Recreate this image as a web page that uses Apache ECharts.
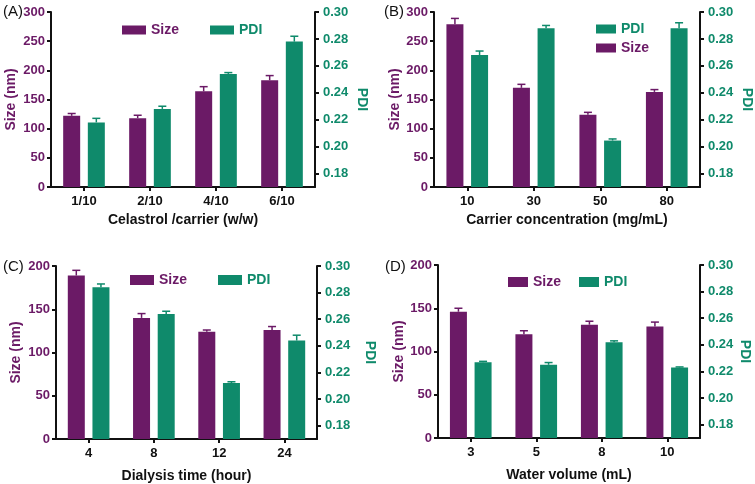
<!DOCTYPE html>
<html><head><meta charset="utf-8">
<script src="https://cdn.jsdelivr.net/npm/echarts@6/dist/echarts.min.js"></script>
<style>html,body{margin:0;padding:0;background:#fff}#c{width:755px;height:484px}</style>
</head><body><div id="c"></div>
<script>
// ---- data ----
const catsA = ['1/10','2/10','4/10','6/10'];
const sizeA = [122,118,164,183];
const sizeErrA = [4,5,8,8];
const pdiA = [0.218,0.228,0.254,0.278];
const pdiErrA = [0.003,0.002,0.001,0.004];

const catsB = ['10','30','50','80'];
const sizeB = [279,170,124,163];
const sizeErrB = [10,6,4,4];
const pdiB = [0.268,0.288,0.2045,0.288];
const pdiErrB = [0.003,0.002,0.0012,0.004];

const catsC = ['4','8','12','24'];
const sizeC = [189,140,124,126];
const sizeErrC = [6,5,2,4];
const pdiC = [0.284,0.264,0.212,0.244];
const pdiErrC = [0.0025,0.002,0.001,0.004];

const catsD = ['3','5','8','10'];
const sizeD = [146,120,131,129];
const sizeErrD = [4,4,4,5];
const pdiD = [0.227,0.225,0.242,0.223];
const pdiErrD = [0.0006,0.0017,0.001,0.0004];

const xNames = ['Celastrol /carrier (w/w)','Carrier concentration (mg/mL)','Dialysis time (hour)','Water volume (mL)'];
const panelLabels = ['(A)','(B)','(C)','(D)'];
const sizeMax = [300,300,200,200];
const pdiTicks = [0.18,0.20,0.22,0.24,0.26,0.28,0.30];

const purple = '#6B1A66';
const green = '#0F8A6B';
const FONT = 'Liberation Sans, Arial, sans-serif';

const panels = [
  {cats:catsA,size:sizeA,se:sizeErrA,pdi:pdiA,pe:pdiErrA},
  {cats:catsB,size:sizeB,se:sizeErrB,pdi:pdiB,pe:pdiErrB},
  {cats:catsC,size:sizeC,se:sizeErrC,pdi:pdiC,pe:pdiErrC},
  {cats:catsD,size:sizeD,se:sizeErrD,pdi:pdiD,pe:pdiErrD}
];

// layout
const grids = [
  {left:51, top:12, width:264, height:175},
  {left:434, top:12, width:266, height:175},
  {left:56, top:266, width:261, height:175},
  {left:438, top:265, width:262, height:173}
];
const titlePos = [{left:3,top:4},{left:384,top:4},{left:3,top:259},{left:385,top:259}];
const sizeGap = [33,32,33,30];
const pdiGap = [40,40,46,38];
const xNameGap = [26,26,30,30];

const BW = 17, GAPPCT = 0.45;
const off = (BW + BW*GAPPCT)/2;

function errItem(offset, color){
  return function(params, api){
    const p = api.coord([api.value(0), api.value(1)]);
    const t = api.coord([api.value(0), api.value(2)]);
    const cx = p[0] + offset;
    const st = {stroke:color, lineWidth:1.5};
    return {type:'group', children:[
      {type:'line', shape:{x1:cx,y1:p[1],x2:cx,y2:t[1]}, style:st},
      {type:'line', shape:{x1:cx-4,y1:t[1],x2:cx+4,y2:t[1]}, style:st}
    ]};
  };
}

const option = {
  animation:false,
  backgroundColor:'#fff',
  textStyle:{fontFamily:FONT},
  title:[], grid:[], xAxis:[], yAxis:[], legend:[], series:[]
};

const axisLine = {show:true, lineStyle:{color:'#111', width:2}};
const axisTick = {show:true, inside:false, length:4, lineStyle:{color:'#111', width:2}};

panels.forEach((P,i)=>{
  option.title.push({text:panelLabels[i], left:titlePos[i].left, top:titlePos[i].top, padding:0,
    textStyle:{fontFamily:FONT, fontSize:15, fontWeight:'normal', color:'#111'}});
  option.grid.push(Object.assign({}, grids[i]));
  option.xAxis.push({type:'category', gridIndex:i, data:P.cats,
    axisLine:axisLine, axisTick:Object.assign({alignWithLabel:true}, axisTick),
    axisLabel:{color:'#111', fontWeight:'bold', fontSize:13, margin:8, fontFamily:FONT},
    name:xNames[i], nameLocation:'middle', nameGap:xNameGap[i],
    nameTextStyle:{color:'#111', fontWeight:'bold', fontSize:14, fontFamily:FONT}});
  option.yAxis.push({type:'value', gridIndex:i, min:0, max:sizeMax[i], interval:50, position:'left',
    axisLine:axisLine, axisTick:axisTick, splitLine:{show:false},
    axisLabel:{color:purple, fontWeight:'bold', fontSize:13, margin:6, fontFamily:FONT},
    name:'Size (nm)', nameLocation:'middle', nameGap:sizeGap[i], nameRotate:90,
    nameTextStyle:{color:purple, fontWeight:'bold', fontSize:14, fontFamily:FONT}});
  option.yAxis.push({type:'value', gridIndex:i, min:0.17, max:0.30, position:'right',
    axisLine:axisLine,
    axisTick:Object.assign({customValues:pdiTicks}, axisTick), splitLine:{show:false},
    axisLabel:{customValues:pdiTicks, color:green, fontWeight:'bold', fontSize:13, margin:8, fontFamily:FONT,
      formatter:v=>v.toFixed(2)},
    name:'PDI', nameLocation:'middle', nameGap:pdiGap[i], nameRotate:-90,
    nameTextStyle:{color:green, fontWeight:'bold', fontSize:14, fontFamily:FONT}});
  const yL = i*2, yR = i*2+1;
  option.series.push({type:'bar', name:'Size', xAxisIndex:i, yAxisIndex:yL, data:P.size,
    barWidth:BW, barGap:(GAPPCT*100)+'%', itemStyle:{color:purple}, clip:true});
  option.series.push({type:'bar', name:'PDI', xAxisIndex:i, yAxisIndex:yR, data:P.pdi,
    barWidth:BW, barGap:(GAPPCT*100)+'%', itemStyle:{color:green}, clip:true});
  option.series.push({type:'custom', name:'sizeErr'+i, xAxisIndex:i, yAxisIndex:yL, z:3,
    renderItem:errItem(-off, purple),
    data:P.size.map((v,k)=>[k, v, v+P.se[k]])});
  option.series.push({type:'custom', name:'pdiErr'+i, xAxisIndex:i, yAxisIndex:yR, z:3,
    renderItem:errItem(off, green),
    data:P.pdi.map((v,k)=>[k, v, v+P.pe[k]])});
});

const legTxt = (c)=>({color:c, fontWeight:'bold', fontSize:14, fontFamily:FONT});
option.legend = [
  {left:117, top:18, orient:'horizontal', itemWidth:24, itemHeight:9, itemGap:31, icon:'rect', selectedMode:false,
   data:[{name:'Size', textStyle:legTxt(purple)},{name:'PDI', textStyle:legTxt(green)}]},
  {left:591, top:17, orient:'vertical', itemWidth:20, itemHeight:9, itemGap:5, icon:'rect', selectedMode:false,
   data:[{name:'PDI', textStyle:legTxt(green)},{name:'Size', textStyle:legTxt(purple)}]},
  {left:125, top:268, orient:'horizontal', itemWidth:24, itemHeight:10, itemGap:31, icon:'rect', selectedMode:false,
   data:[{name:'Size', textStyle:legTxt(purple)},{name:'PDI', textStyle:legTxt(green)}]},
  {left:503, top:270, orient:'horizontal', itemWidth:20, itemHeight:10, itemGap:18, icon:'rect', selectedMode:false,
   data:[{name:'Size', textStyle:legTxt(purple)},{name:'PDI', textStyle:legTxt(green)}]}
];

const chart = echarts.init(document.getElementById('c'), null, {renderer:'canvas'});
chart.setOption(option);
</script></body></html>
